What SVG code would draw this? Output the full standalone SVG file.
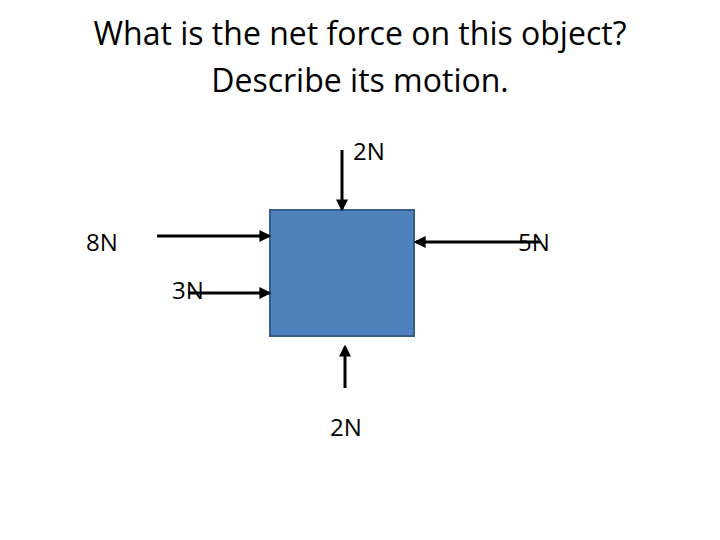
<svg xmlns="http://www.w3.org/2000/svg" width="720" height="540" viewBox="0 0 720 540">
<defs>
<marker id="ah" markerWidth="4" markerHeight="4" refX="3.2" refY="2" orient="auto" markerUnits="strokeWidth"><path d="M0,0 L4,2 L0,4 z" fill="#000"/></marker>
<style>
.t{font-family:"Open Sans","Liberation Sans",sans-serif;fill:#000}
.a{stroke:#000;stroke-width:3;fill:none;marker-end:url(#ah)}
</style>
</defs>
<rect width="720" height="540" fill="#fff"/>
<text class="t" x="360" y="45" font-size="32" text-anchor="middle">What is the net force on this object?</text>
<text class="t" x="360" y="92" font-size="32" text-anchor="middle">Describe its motion.</text>
<g id="box"><rect x="270" y="210" width="144" height="126" fill="#4F81BD" stroke="#385D8A" stroke-width="2"/></g>
<g id="connectors">
<line class="a" x1="342" y1="150" x2="342" y2="209"/>
<line class="a" x1="157" y1="236" x2="269" y2="236"/>
<line class="a" x1="540" y1="242" x2="416" y2="242"/>
<line class="a" x1="188" y1="293" x2="269" y2="293"/>
<line class="a" x1="345" y1="388" x2="345" y2="347"/>
</g>
<g id="labels">
<text class="t" x="353" y="160" font-size="24">2N</text>
<text class="t" x="86" y="251" font-size="24">8N</text>
<text class="t" x="518" y="251" font-size="24">5N</text>
<text class="t" x="172" y="299" font-size="24">3N</text>
<text class="t" x="330" y="436" font-size="24">2N</text>
</g>
</svg>
